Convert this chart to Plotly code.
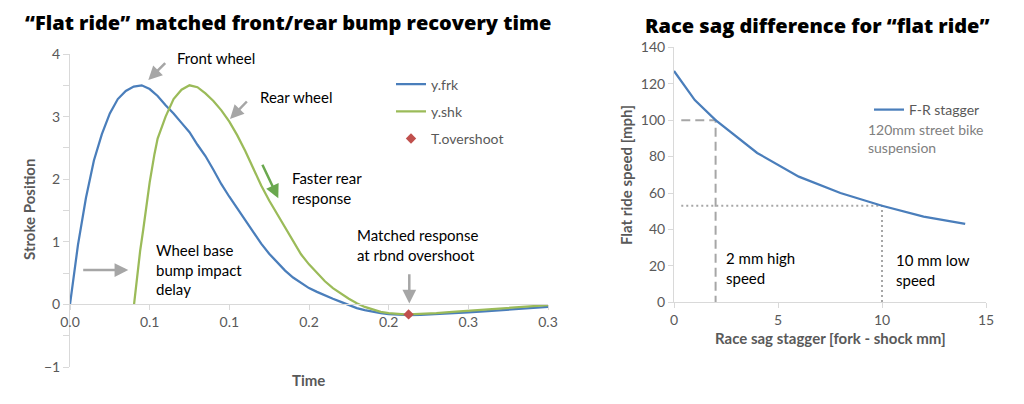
import plotly.graph_objects as go

# ---------------- data: left chart ----------------
t_frk = [0, 0.005, 0.01, 0.015, 0.02, 0.025, 0.03, 0.035, 0.04, 0.045, 0.05, 0.055,
         0.06, 0.065, 0.07, 0.075, 0.08, 0.085, 0.09, 0.095, 0.1, 0.105, 0.11, 0.115,
         0.12, 0.125, 0.13, 0.135, 0.14, 0.145, 0.15, 0.155, 0.16, 0.165, 0.17, 0.175,
         0.18, 0.185, 0.19, 0.195, 0.2, 0.21, 0.2125, 0.22, 0.23, 0.24, 0.25, 0.26,
         0.27, 0.28, 0.29, 0.3]
y_frk = [0, 0.95, 1.7, 2.3, 2.72, 3.05, 3.28, 3.41, 3.48, 3.50, 3.44, 3.33,
         3.18, 3.05, 2.90, 2.75, 2.55, 2.37, 2.15, 1.92, 1.72, 1.53, 1.34, 1.15,
         0.97, 0.81, 0.67, 0.54, 0.43, 0.34, 0.26, 0.20, 0.14, 0.09, 0.04, -0.01,
         -0.06, -0.09, -0.12, -0.14, -0.155, -0.168, -0.17, -0.167, -0.157, -0.142, -0.127, -0.11,
         -0.092, -0.074, -0.057, -0.04]

t_shk = [0.0402, 0.042, 0.044, 0.046, 0.048, 0.05, 0.053, 0.055, 0.06, 0.065, 0.07, 0.075,
         0.08, 0.085, 0.09, 0.095, 0.1, 0.105, 0.11, 0.115, 0.12, 0.125, 0.13, 0.135,
         0.14, 0.145, 0.15, 0.155, 0.16, 0.165, 0.17, 0.175, 0.18, 0.185, 0.19, 0.195,
         0.2, 0.205, 0.21, 0.2125, 0.22, 0.23, 0.24, 0.25, 0.26, 0.27, 0.28, 0.29, 0.3]
y_shk = [0, 0.45, 0.85, 1.2, 1.6, 1.95, 2.4, 2.65, 3.0, 3.28, 3.43, 3.50,
         3.47, 3.37, 3.25, 3.10, 2.92, 2.70, 2.45, 2.18, 1.90, 1.66, 1.44, 1.22,
         1.0, 0.80, 0.64, 0.50, 0.37, 0.26, 0.17, 0.09, 0.02, -0.04, -0.08, -0.12,
         -0.14, -0.155, -0.16, -0.16, -0.155, -0.14, -0.12, -0.10, -0.08, -0.06, -0.04, -0.025, -0.01]

t_overshoot = [0.2125]
y_overshoot = [-0.16]

x_ticks_left = [0, 0.05, 0.1, 0.15, 0.2, 0.25, 0.3]
x_tick_text_left = ["0.0", "0.1", "0.1", "0.2", "0.2", "0.3", "0.3"]

# ---------------- data: right chart ----------------
stagger_mm = [0, 1, 2, 4, 6, 8, 10, 12, 14]
flat_speed = [127, 111, 100, 82, 69, 60, 53, 47, 43]

high_speed_pt = (2, 100)
low_speed_pt = (10, 53)
guide_start = 0.35

BLUE = "#4A7EBB"
GREEN = "#9BBB59"
RED = "#C0504D"
GRAY_AX = "#D9D9D9"
GRAY_TXT = "#595959"
ARROW_GRAY = "#A6A6A6"
FONT = "Lato"

fig = go.Figure()

fig.add_trace(go.Scatter(x=t_frk, y=y_frk, mode="lines", name="y.frk",
                         line=dict(color=BLUE, width=2.25), xaxis="x", yaxis="y",
                         legend="legend", legendgroup="a"))
fig.add_trace(go.Scatter(x=t_shk, y=y_shk, mode="lines", name="y.shk",
                         line=dict(color=GREEN, width=2.25), xaxis="x", yaxis="y",
                         legend="legend", legendgroup="b"))
fig.add_trace(go.Scatter(x=t_overshoot, y=y_overshoot, mode="markers", name="T.overshoot",
                         marker=dict(color=RED, symbol="diamond", size=8), xaxis="x", yaxis="y",
                         legend="legend", legendgroup="c"))

# right chart guides
fig.add_trace(go.Scatter(x=[guide_start, high_speed_pt[0], high_speed_pt[0]],
                         y=[high_speed_pt[1], high_speed_pt[1], 0], mode="lines",
                         line=dict(color="#A6A6A6", width=2, dash="9px,5px"),
                         xaxis="x2", yaxis="y2", showlegend=False, hoverinfo="skip"))
fig.add_trace(go.Scatter(x=[guide_start, low_speed_pt[0], low_speed_pt[0]],
                         y=[low_speed_pt[1], low_speed_pt[1], 0], mode="lines",
                         line=dict(color="#A6A6A6", width=2, dash="2px,3px"),
                         xaxis="x2", yaxis="y2", showlegend=False, hoverinfo="skip"))
fig.add_trace(go.Scatter(x=stagger_mm, y=flat_speed, mode="lines", name="F-R stagger",
                         line=dict(color=BLUE, width=2.25), xaxis="x2", yaxis="y2",
                         legend="legend2"))

W, H = 1024, 404
L_x0, L_x1 = 70 / W, 548 / W
L_y0, L_y1 = (H - 367) / H, (H - 54) / H
R_x0, R_x1 = 674 / W, 986 / W
R_y0, R_y1 = (H - 302.3) / H, (H - 47.3) / H
zero_pos = (H - 304.4) / H

tickfont = dict(family=FONT, size=14, color=GRAY_TXT)

fig.update_layout(
    width=W, height=H, margin=dict(l=0, r=0, t=0, b=0, autoexpand=False),
    paper_bgcolor="white", plot_bgcolor="white",
    font=dict(family=FONT, size=14, color="black"),
    xaxis=dict(domain=[L_x0, L_x1], range=[0, 0.3], anchor="free", position=zero_pos,
               tickvals=x_ticks_left, ticktext=x_tick_text_left, automargin=False,
               showline=True, linecolor=GRAY_AX, linewidth=1,
               ticks="outside", ticklen=5, tickcolor=GRAY_AX,
               showgrid=False, zeroline=False, tickfont=tickfont),
    yaxis=dict(domain=[L_y0, L_y1], range=[-1, 4], anchor="x", dtick=1, automargin=False,
               showline=True, linecolor=GRAY_AX, linewidth=1,
               ticks="outside", ticklen=6, tickcolor=GRAY_AX,
               minor=dict(dtick=0.5, ticks="outside", ticklen=6, tickcolor=GRAY_AX),
               showgrid=False, zeroline=False, tickfont=tickfont),
    xaxis2=dict(domain=[R_x0, R_x1], range=[0, 15], anchor="y2", dtick=5, automargin=False,
                showline=True, linecolor=GRAY_AX, linewidth=1,
                ticks="outside", ticklen=5, tickcolor=GRAY_AX,
                showgrid=False, zeroline=False, tickfont=tickfont),
    yaxis2=dict(domain=[R_y0, R_y1], range=[0, 140], anchor="x2", dtick=20, automargin=False,
                showline=True, linecolor=GRAY_AX, linewidth=1,
                ticks="outside", ticklen=5, tickcolor=GRAY_AX,
                showgrid=False, zeroline=False, tickfont=tickfont),
    legend=dict(x=391 / W, y=(H - 111.5) / H, xanchor="left", yanchor="middle",
                bgcolor="rgba(0,0,0,0)", tracegroupgap=6,
                font=dict(family=FONT, size=14, color=GRAY_TXT)),
    legend2=dict(x=869 / W, y=(H - 110) / H, xanchor="left", yanchor="middle",
                 bgcolor="rgba(0,0,0,0)",
                 font=dict(family=FONT, size=14, color=GRAY_TXT)),
)

ann = []
title_font = dict(family="Open Sans", size=20, color="black", weight=800)
ann.append(dict(text="“Flat ride” matched front/rear bump recovery time", xref="paper", yref="paper",
                x=288 / W, y=(H - 22) / H, xanchor="center", yanchor="middle", showarrow=False,
                font=title_font))
ann.append(dict(text="Race sag difference for “flat ride”", xref="paper", yref="paper",
                x=817 / W, y=(H - 25) / H, xanchor="center", yanchor="middle", showarrow=False,
                font=title_font))

axis_title_font = dict(family=FONT, size=15, color=GRAY_TXT, weight="bold")
ann.append(dict(text="Stroke Position", xref="paper", yref="paper", x=29 / W, y=(H - 210) / H,
                textangle=-90, showarrow=False, xanchor="center", yanchor="middle", font=axis_title_font))
ann.append(dict(text="Time", xref="paper", yref="paper", x=308 / W, y=(H - 380) / H,
                showarrow=False, xanchor="center", yanchor="middle", font=axis_title_font))
ann.append(dict(text="Flat ride speed [mph]", xref="paper", yref="paper", x=626 / W, y=(H - 175) / H,
                textangle=-90, showarrow=False, xanchor="center", yanchor="middle", font=axis_title_font))
ann.append(dict(text="Race sag stagger [fork - shock mm]", xref="paper", yref="paper", x=830 / W,
                y=(H - 338) / H, showarrow=False, xanchor="center", yanchor="middle", font=axis_title_font))

note_font = dict(family=FONT, size=15, color="black")


def px2l(px, py):
    return (px - 70) / 478 * 0.3, (304.4 - py) / 62.6


def label(text, px, py):
    x, y = px2l(px, py)
    ann.append(dict(text=text, x=x, y=y, xref="x", yref="y", xanchor="left", yanchor="middle",
                    align="left", showarrow=False, font=note_font))


def arrow(tail, head, color=ARROW_GRAY):
    hx, hy = px2l(*head)
    tx, ty = px2l(*tail)
    ann.append(dict(text="", x=hx, y=hy, ax=tx, ay=ty, xref="x", yref="y", axref="x", ayref="y",
                    showarrow=True, arrowhead=2, arrowsize=1.1, arrowwidth=2.5, arrowcolor=color))


label("Front wheel", 175, 58)
arrow((166.7, 61.7), (148.3, 80))
label("Rear wheel", 258, 97)
arrow((248.3, 100), (230, 119))
label("Faster rear<br>response", 290, 187.5)
arrow((261.7, 163.3), (278.3, 198.3), color="#6AA84F")
label("Wheel base<br>bump impact<br>delay", 154, 269.5)
arrow((81.7, 270), (128.3, 270))
label("Matched response<br>at rbnd overshoot", 355, 245)
arrow((409.3, 272.7), (409.3, 303.5))

ann.append(dict(text="2 mm high<br>speed", x=2.4, y=18.8, xref="x2", yref="y2", xanchor="left",
                yanchor="middle", align="left", showarrow=False, font=note_font))
ann.append(dict(text="10 mm low<br>speed", x=10.58, y=17.8, xref="x2", yref="y2", xanchor="left",
                yanchor="middle", align="left", showarrow=False, font=note_font))
ann.append(dict(text="120mm street bike<br>suspension", x=9.23, y=89.7, xref="x2", yref="y2",
                xanchor="left", yanchor="middle", align="left", showarrow=False,
                font=dict(family=FONT, size=14, color="#808080")))

fig.update_layout(annotations=ann)
fig.write_html("out.html")
